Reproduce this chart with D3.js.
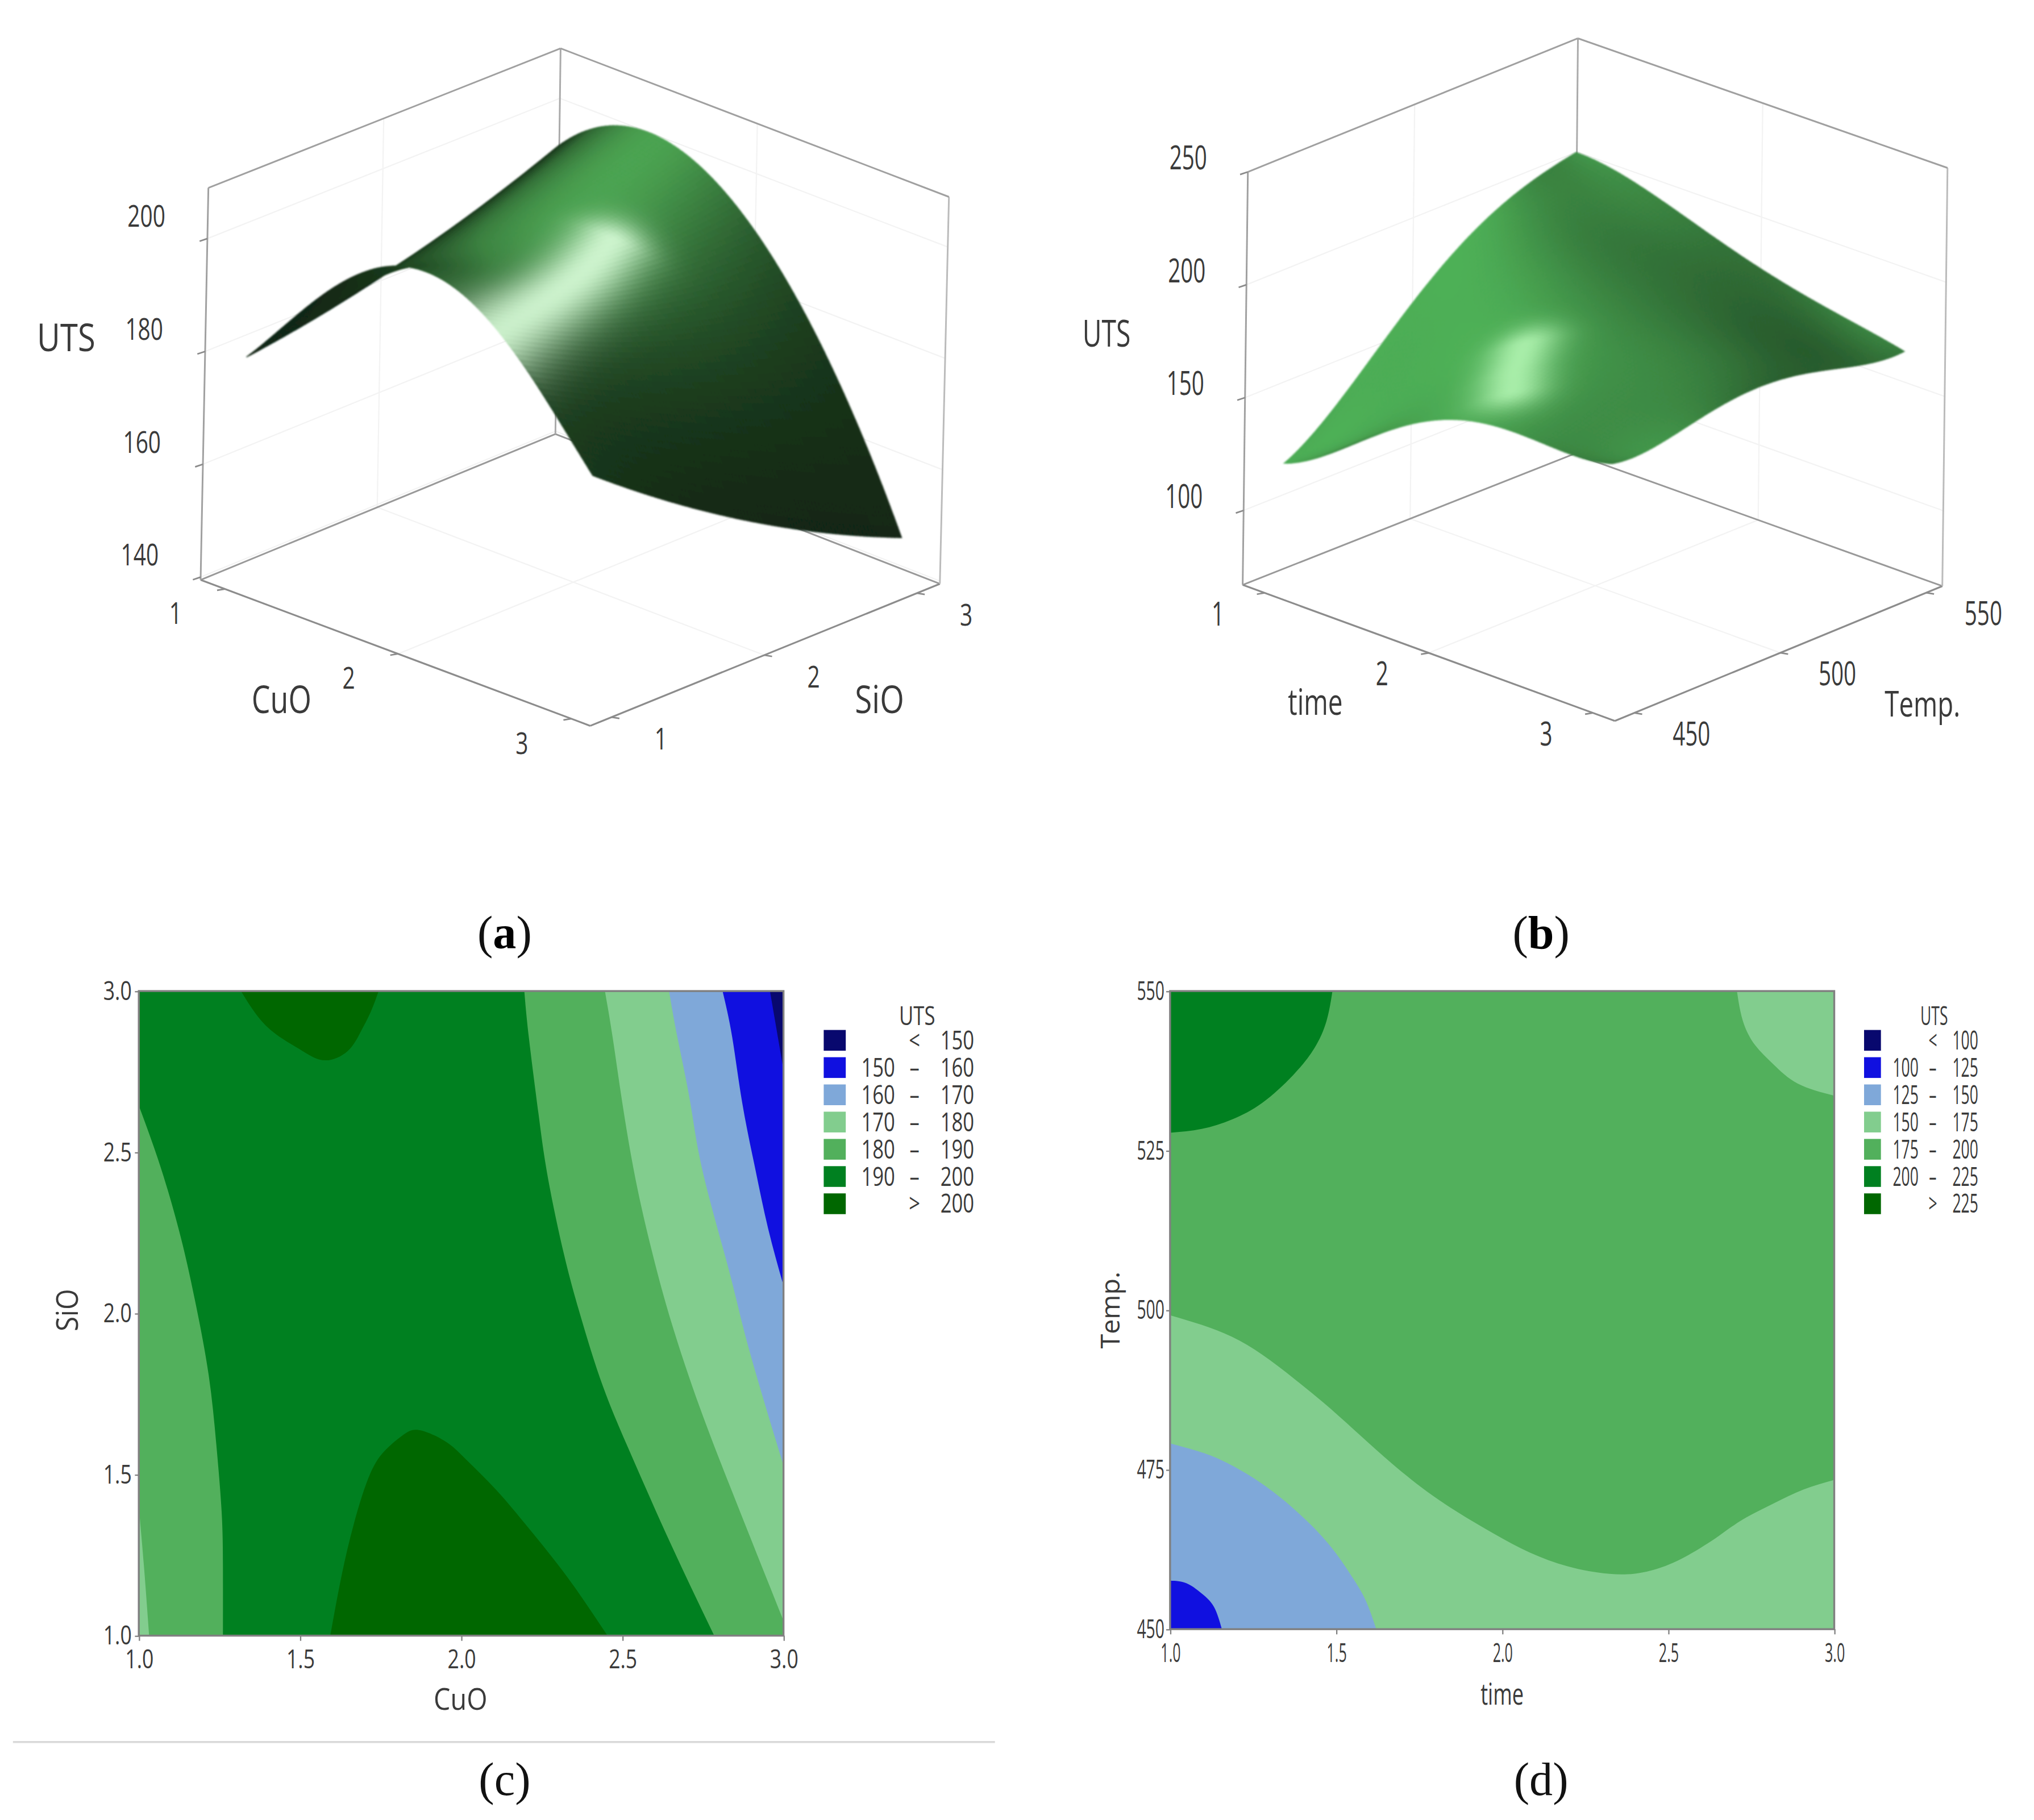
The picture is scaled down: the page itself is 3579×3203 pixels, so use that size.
<!DOCTYPE html>
<html>
<head>
<meta charset="utf-8">
<script src="https://cdn.jsdelivr.net/npm/d3@7"></script>
<style>
  html, body { margin: 0; background: #fff; }
  text { font-family: "Open Sans", sans-serif; fill: #3a3a3a; }
  .caption { font-family: "Liberation Serif", serif; font-size: 36px; fill: #111; }
  .caption .strong { font-weight: bold; fill: #000; }
</style>
</head>
<body>
<script>
// panel (a) surface: UTS read at CuO / SiO grid points
const cuoGrid = [1, 1.5, 2, 2.5, 3];
const sioGrid = [1, 2, 3];
const utsSio10 = [179, 197, 206, 199, 181];
const utsSio20 = [184, 195.5, 196, 186, 161.5];
const utsSio30 = [193, 202, 196, 177.5, 147];
const glareA = [[2.46, 1], [2.07, 2], [1.95, 2.3]];

// panel (b) surface: UTS read at time / Temp. grid points
const timeGrid = [1, 1.5, 2, 2.5, 3];
const tempGrid = [450, 475, 500, 525, 550];
const utsTemp450 = [121, 145, 167, 172, 174];
const utsTemp475 = [146, 165, 181, 183, 177];
const utsTemp500 = [176, 188, 190, 189, 182];
const utsTemp525 = [197, 195, 190, 184, 177];
const utsTemp550 = [207, 200, 188, 179, 172];
const glareB = [[2.16, 463], [2.05, 470], [1.93, 480]];

// panel (c) contour boundaries [CuO, SiO]
const cLeft190 = [[1, 2.645], [1.046, 2.518], [1.09, 2.382], [1.136, 2.213], [1.177, 2.027], [1.217, 1.807], [1.241, 1.587], [1.257, 1.384], [1.261, 1.215], [1.261, 1]];
const cLeft180 = [[1, 1.4], [1.016, 1.215], [1.032, 1]];
const cTop200 = [[1.317, 3], [1.367, 2.924], [1.427, 2.865], [1.508, 2.814], [1.578, 2.785], [1.648, 2.814], [1.688, 2.873], [1.718, 2.932], [1.744, 3]];
const cBottom200 = [[1.594, 1], [1.628, 1.181], [1.668, 1.35], [1.718, 1.503], [1.768, 1.579], [1.818, 1.621], [1.869, 1.638], [1.949, 1.604], [2.009, 1.553], [2.109, 1.452], [2.21, 1.333], [2.33, 1.181], [2.454, 1]];
const cRight190 = [[2.196, 3], [2.21, 2.856], [2.24, 2.619], [2.27, 2.416], [2.32, 2.179], [2.37, 1.993], [2.44, 1.773], [2.531, 1.553], [2.651, 1.283], [2.785, 1]];
const cRight180 = [[2.446, 3], [2.47, 2.856], [2.5, 2.653], [2.541, 2.416], [2.591, 2.196], [2.651, 1.976], [2.741, 1.706], [2.852, 1.418], [3, 1.046]];
const cRight170 = [[2.645, 3], [2.671, 2.856], [2.711, 2.653], [2.751, 2.433], [2.832, 2.129], [2.892, 1.892], [3, 1.528]];
const cRight160 = [[2.811, 3], [2.841, 2.856], [2.872, 2.653], [2.912, 2.45], [2.952, 2.264], [3, 2.086]];
const cRight150 = [[2.958, 3], [3, 2.755]];

// panel (d) contour boundaries [time, Temp.]
const dTop200 = [[1.489, 550], [1.471, 545.3], [1.434, 541], [1.37, 536.8], [1.278, 532.5], [1.187, 529.9], [1.095, 528.4], [1, 527.8]];
const dTop175 = [[2.707, 550], [2.725, 545.3], [2.762, 541.5], [2.817, 538.5], [2.89, 535.5], [3, 533.6]];
const dBottom175 = [[1, 499.2], [1.095, 497.7], [1.187, 495.8], [1.278, 493], [1.37, 489.4], [1.462, 485.5], [1.553, 481.3], [1.645, 477], [1.755, 472.3], [1.864, 468.4], [1.974, 465], [2.084, 462], [2.194, 459.9], [2.286, 458.9], [2.377, 458.6], [2.469, 459.5], [2.56, 461.6], [2.652, 464.6], [2.725, 467.2], [2.817, 469.7], [2.908, 471.9], [3, 473.4]];
const dBottom150 = [[1, 479.1], [1.077, 478], [1.15, 476.6], [1.242, 474], [1.333, 470.6], [1.425, 466.3], [1.498, 462], [1.553, 457.8], [1.59, 454.4], [1.621, 450]];
const dBottom125 = [[1, 457.6], [1.049, 457.2], [1.095, 455.6], [1.132, 453.5], [1.156, 450]];

// legends
const legendColors = ['#08086e', '#1010e0', '#7fa8d9', '#82cd8e', '#52b05c', '#008020', '#006700'];
const legendLowC = ['', '150', '160', '170', '180', '190', ''];
const legendHighC = ['150', '160', '170', '180', '190', '200', '200'];
const legendLowD = ['', '100', '125', '150', '175', '200', ''];
const legendHighD = ['100', '125', '150', '175', '200', '225', '225'];
const legendSigns = ['<', '–', '–', '–', '–', '–', '>'];

const contourTicksX = [1, 1.5, 2, 2.5, 3];
const contourTicksYc = [1, 1.5, 2, 2.5, 3];
const contourTicksYd = [450, 475, 500, 525, 550];

const svg = d3.select('body').append('svg')
  .attr('width', 3579)
  .attr('height', 3203)
  .attr('viewBox', '0 0 1568 1403')
  .style('display', 'block');

svg.append('defs').append('filter')
  .attr('id', 'soft')
  .append('feGaussianBlur')
  .attr('stdDeviation', 0.7);

function addText(g, x, y, str, opts) {
  const o = Object.assign({ size: 23, sx: 1, anchor: 'middle', rotate: 0 }, opts);
  return g.append('text')
    .attr('transform', `translate(${x},${y}) rotate(${o.rotate}) scale(${o.sx},1)`)
    .attr('text-anchor', o.anchor)
    .attr('dy', '.35em')
    .style('font-size', o.size + 'px')
    .text(str);
}

// polynomial through a row of grid values, t is in grid steps (response surfaces are low order)
function polyThrough(vals, t) {
  let sum = 0;
  vals.forEach((val, i) => {
    let term = val;
    vals.forEach((_, j) => {
      if (j !== i) term *= (t - j) / (i - j);
    });
    sum += term;
  });
  return sum;
}

function surfaceValue(rows, uStep, vStep) {
  return polyThrough(rows.map((r) => polyThrough(r, uStep)), vStep);
}

function dot(a, b) { return a[0] * b[0] + a[1] * b[1] + a[2] * b[2]; }

function normalize(a) {
  const l = Math.sqrt(dot(a, a));
  return a.map((d) => d / l);
}

function distToPath(p, path) {
  let best = Infinity;
  d3.pairs(path).forEach(([a, b]) => {
    const dx = b[0] - a[0], dy = b[1] - a[1];
    const t = Math.max(0, Math.min(1, ((p[0] - a[0]) * dx + (p[1] - a[1]) * dy) / (dx * dx + dy * dy)));
    best = Math.min(best, Math.hypot(p[0] - a[0] - t * dx, p[1] - a[1] - t * dy));
  });
  return best;
}

function shade(n, glareDist, cfg) {
  const d = Math.max(0, dot(n, cfg.light));
  const grazing = Math.min(1, Math.max(0, dot(n, cfg.view) / cfg.graze));
  const lum = (cfg.ambient + cfg.diffuse * Math.pow(d, cfg.gamma)) * (cfg.grazeFloor + (1 - cfg.grazeFloor) * grazing);
  const b = d3.rgb(cfg.base);
  const col = d3.rgb(b.r * lum, b.g * lum, b.b * lum);
  const spec = cfg.spec * Math.exp(-(glareDist / cfg.glareWidth) * (glareDist / cfg.glareWidth));
  return d3.interpolateRgb(col, cfg.hilite)(spec);
}

function drawCube(cfg) {
  const g = svg.append('g');
  const u = d3.scaleLinear().domain(cfg.xDomain).range([0, 1]);
  const v = d3.scaleLinear().domain(cfg.yDomain).range([0, 1]);
  const zy = d3.scaleLinear().domain([cfg.zFloor, cfg.zFloor + 1]).range([0, -cfg.zPerUnit]);
  const px = (a, b, z) => [
    cfg.origin[0] + a * cfg.U[0] + b * cfg.V[0],
    cfg.origin[1] + a * cfg.U[1] + b * cfg.V[1] + zy(z)
  ];
  const project = (x, y, z) => px(u(x), v(y), z);
  const topShift = (p) => [p[0] + cfg.topLean, p[1]];
  const nudged = (p, d) => [p[0] + d[0], p[1] + d[1]];

  const [uLo, uHi] = cfg.uBox, [vLo, vHi] = cfg.vBox;
  const leftFloor = px(uLo, vLo, cfg.zFloor);
  const frontFloor = px(uHi, vLo, cfg.zFloor);
  const rightFloor = nudged(px(uHi, vHi, cfg.zFloor), cfg.nudge.rightFloor);
  const backFloor = nudged(px(uLo, vHi, cfg.zFloor), cfg.nudge.backFloor);
  const leftTop = topShift(px(uLo, vLo, cfg.zTop));
  const backTop = nudged(topShift(px(uLo, vHi, cfg.zTop)), cfg.nudge.backTop);
  const rightTop = nudged(topShift(px(uHi, vHi, cfg.zTop)), cfg.nudge.rightTop);

  const segment = (a, b, color, w) => g.append('line')
    .attr('x1', a[0]).attr('y1', a[1]).attr('x2', b[0]).attr('y2', b[1])
    .attr('stroke', color).attr('stroke-width', w);
  const lerp = (a, b, t) => [a[0] + (b[0] - a[0]) * t, a[1] + (b[1] - a[1]) * t];

  // faint grid on walls and floor
  const zT = d3.scaleLinear().domain([cfg.zFloor, cfg.zTop]).range([0, 1]);
  cfg.zTicks.forEach((z) => {
    const t = zT(z);
    const a = lerp(leftFloor, leftTop, t), b = lerp(backFloor, backTop, t), c = lerp(rightFloor, rightTop, t);
    segment(a, b, '#f3f3f3', 1);
    segment(b, c, '#f3f3f3', 1);
  });
  const uBoxT = d3.scaleLinear().domain(cfg.uBox).range([0, 1]);
  const vBoxT = d3.scaleLinear().domain(cfg.vBox).range([0, 1]);
  [cfg.xTicks[1]].forEach((x) => {
    const t = uBoxT(u(x));
    const a = lerp(leftFloor, frontFloor, t), b = lerp(backFloor, rightFloor, t);
    segment(a, b, '#f3f3f3', 1);
    segment(b, lerp(backTop, rightTop, t), '#f3f3f3', 1);
  });
  [cfg.yTicks[1]].forEach((y) => {
    const t = vBoxT(v(y));
    const a = lerp(frontFloor, rightFloor, t), b = lerp(leftFloor, backFloor, t);
    segment(a, b, '#f3f3f3', 1);
    segment(b, lerp(leftTop, backTop, t), '#f3f3f3', 1);
  });

  segment(backFloor, leftFloor, '#999999', 1.3);
  segment(backFloor, rightFloor, '#999999', 1.3);
  segment(leftFloor, frontFloor, '#8c8c8c', 1.4);
  segment(frontFloor, rightFloor, '#8c8c8c', 1.4);
  segment(leftFloor, leftTop, '#a0a0a0', 1.3);
  segment(backFloor, backTop, '#aaaaaa', 1.3);
  segment(rightFloor, rightTop, '#bbbbbb', 1.3);
  segment(leftTop, backTop, '#a0a0a0', 1.3);
  segment(backTop, rightTop, '#a0a0a0', 1.3);

  // ticks and their labels
  cfg.zTicks.forEach((z) => {
    const p = lerp(leftFloor, leftTop, zT(z));
    segment(p, [p[0] - 6, p[1] + 2], '#8a8a8a', 1.2);
    addText(g, p[0] + cfg.zLabelOffset[0], p[1] + cfg.zLabelOffset[1], String(z), cfg.tickFont);
  });
  cfg.xTicks.forEach((x) => {
    const p = lerp(leftFloor, frontFloor, uBoxT(u(x)));
    segment(p, [p[0] - 6, p[1] + 1], '#8a8a8a', 1.2);
    addText(g, p[0] + cfg.xLabelOffset[0], p[1] + cfg.xLabelOffset[1], String(x), cfg.tickFont);
  });
  cfg.yTicks.forEach((y) => {
    const p = lerp(frontFloor, rightFloor, vBoxT(v(y)));
    segment(p, [p[0] + 6, p[1] + 1], '#8a8a8a', 1.2);
    addText(g, p[0] + cfg.yLabelOffset[0], p[1] + cfg.yLabelOffset[1], String(y), cfg.tickFont);
  });
  cfg.titles.forEach((t) => addText(g, t.x, t.y, t.text, t.font));

  // surface, painted from the far corner to the near one
  const xIndex = d3.scaleLinear().domain([0, cfg.cells]).range([0, cfg.xGrid.length - 1]);
  const yIndex = d3.scaleLinear().domain([0, cfg.cells]).range([cfg.yGrid.length - 1, 0]);
  const xVal = d3.scaleLinear().domain([0, cfg.xGrid.length - 1]).range(d3.extent(cfg.xGrid));
  const yVal = d3.scaleLinear().domain([0, cfg.yGrid.length - 1]).range(d3.extent(cfg.yGrid));
  const glarePath = cfg.glare.map((p) => [u(p[0]), v(p[1])]);
  const cells = [];
  d3.range(cfg.cells).forEach((i) => {
    d3.range(cfg.cells).forEach((j) => cells.push({ i, j }));
  });
  const corner = (i, j) => {
    const a = xIndex(i), b = yIndex(j);
    return project(xVal(a), yVal(b), surfaceValue(cfg.rows, a, b));
  };
  const normalAt = (i, j) => {
    const h = 0.5;
    const a0 = xIndex(Math.max(0, i - h)), a1 = xIndex(Math.min(cfg.cells, i + h));
    const bMid = yIndex(j), aMid = xIndex(i);
    const b0 = yIndex(Math.min(cfg.cells, j + h)), b1 = yIndex(Math.max(0, j - h));
    const duStep = (a1 - a0) / (cfg.xGrid.length - 1), dvStep = (b1 - b0) / (cfg.yGrid.length - 1);
    const dzu = (surfaceValue(cfg.rows, a1, bMid) - surfaceValue(cfg.rows, a0, bMid)) / duStep;
    const dzv = (surfaceValue(cfg.rows, aMid, b1) - surfaceValue(cfg.rows, aMid, b0)) / dvStep;
    return normalize([-dzu / cfg.zRange, -dzv / cfg.zRange, 1]);
  };
  g.append('g')
    .attr('filter', 'url(#soft)')
    .selectAll('path')
    .data(cells)
    .join('path')
    .attr('d', (d) => 'M' + [corner(d.i, d.j), corner(d.i + 1, d.j), corner(d.i + 1, d.j + 1), corner(d.i, d.j + 1)].join('L') + 'Z')
    .each(function (d) {
      const here = [(d.i + 0.5) / cfg.cells, 1 - (d.j + 0.5) / cfg.cells];
      const col = shade(normalAt(d.i + 0.5, d.j + 0.5), distToPath(here, glarePath), cfg);
      d3.select(this).attr('fill', col).attr('stroke', col).attr('stroke-width', 0.7);
    });
}

function drawContour(cfg) {
  const g = svg.append('g');
  const x = d3.scaleLinear().domain(cfg.xDomain).range([cfg.left, cfg.right]);
  const y = d3.scaleLinear().domain(cfg.yDomain).range([cfg.bottom, cfg.top]);
  const line = d3.line().x((d) => x(d[0])).y((d) => y(d[1])).curve(d3.curveNatural);

  g.append('rect')
    .attr('x', cfg.left).attr('y', cfg.top)
    .attr('width', cfg.right - cfg.left).attr('height', cfg.bottom - cfg.top)
    .attr('fill', cfg.baseColor);

  g.selectAll('path.band')
    .data(cfg.bands)
    .join('path')
    .attr('class', 'band')
    .attr('fill', (d) => d.color)
    .attr('d', (d) => line(d.edge) + d.close.map((p) => 'L' + x(p[0]) + ',' + y(p[1])).join('') + 'Z');

  g.append('rect')
    .attr('x', cfg.left).attr('y', cfg.top)
    .attr('width', cfg.right - cfg.left).attr('height', cfg.bottom - cfg.top)
    .attr('fill', 'none').attr('stroke', '#808080').attr('stroke-width', 1.5);

  const xAxis = g.append('g')
    .attr('transform', `translate(0,${cfg.bottom})`)
    .call(d3.axisBottom(x).tickValues(contourTicksX).tickFormat(d3.format('.1f')).tickSize(4).tickPadding(7));
  const yAxis = g.append('g')
    .attr('transform', `translate(${cfg.left},0)`)
    .call(d3.axisLeft(y).tickValues(cfg.yTicks).tickFormat(cfg.yFormat).tickSize(3).tickPadding(4));
  [xAxis, yAxis].forEach((a) => {
    a.select('.domain').remove();
    a.selectAll('line').attr('stroke', '#808080').attr('stroke-width', 1);
    a.selectAll('text').style('font-size', cfg.tickSize + 'px').style('font-family', '"Open Sans", sans-serif').attr('fill', '#222');
  });
  xAxis.selectAll('text').attr('transform', `scale(${cfg.xTickSx},1)`);
  yAxis.selectAll('text').attr('transform', `scale(${cfg.yTickSx},1)`);

  addText(g, cfg.xTitle.x, cfg.xTitle.y, cfg.xTitle.text, cfg.xTitle.font);
  addText(g, cfg.yTitle.x, cfg.yTitle.y, cfg.yTitle.text, cfg.yTitle.font);

  // legend
  const rowY = d3.scalePoint().domain(d3.range(legendColors.length)).range([802, 928]);
  const leg = cfg.legend;
  addText(g, leg.titleX, 783, 'UTS', leg.font);
  legendColors.forEach((color, i) => {
    g.append('rect')
      .attr('x', leg.swatchX).attr('y', rowY(i) - 8)
      .attr('width', leg.swatchW).attr('height', 16)
      .attr('fill', color);
    if (cfg.lows[i]) addText(g, leg.lowRight, rowY(i), cfg.lows[i], Object.assign({}, leg.font, { anchor: 'end' }));
    addText(g, leg.signX, rowY(i), legendSigns[i], leg.font);
    addText(g, leg.highRight, rowY(i), cfg.highs[i], Object.assign({}, leg.font, { anchor: 'end' }));
  });
}

drawCube({
  rows: [utsSio10, utsSio20, utsSio30],
  xGrid: cuoGrid, yGrid: sioGrid,
  xDomain: [1, 3], yDomain: [1, 3],
  origin: [190, 447], U: [267, 100], V: [238, -100],
  uBox: [-0.07, 1.055], vBox: [-0.07, 1.075],
  nudge: { rightFloor: [-3, 5], rightTop: [-2, 9], backFloor: [1, 2], backTop: [-1, 7] },
  zFloor: 139.5, zTop: 209, zPerUnit: 4.35, topLean: 6, zRange: 70,
  zTicks: [140, 160, 180, 200], xTicks: [1, 2, 3], yTicks: [1, 2, 3],
  zLabelOffset: [-47, -17], xLabelOffset: [-38, 19], yLabelOffset: [38, 17],
  tickFont: { size: 23, sx: 0.74 },
  titles: [
    { x: 51, y: 260, text: 'UTS', font: { size: 30, sx: 0.82 } },
    { x: 217, y: 539, text: 'CuO', font: { size: 30, sx: 0.76 } },
    { x: 678, y: 539, text: 'SiO', font: { size: 30, sx: 0.8 } }
  ],
  cells: 90,
  base: '#4aa050', hilite: '#d8fcd8', glare: glareA, glareWidth: 0.085,
  light: normalize([0.1, -0.2, 0.97]), view: normalize([0.58, -0.65, 0.47]),
  ambient: 0.16, diffuse: 0.86, gamma: 3, spec: 0.92, graze: 0.3, grazeFloor: 0.7
});

drawCube({
  rows: [utsTemp450, utsTemp475, utsTemp500, utsTemp525, utsTemp550],
  xGrid: timeGrid, yGrid: tempGrid,
  xDomain: [1, 3], yDomain: [450, 550],
  origin: [990, 451], U: [253, 92.5], V: [225, -90],
  uBox: [-0.067, 1.067], vBox: [-0.067, 1.055],
  nudge: { rightFloor: [0, -3], rightTop: [0, -7], backFloor: [3, 0], backTop: [2, -2] },
  zFloor: 67, zTop: 250, zPerUnit: 1.74, topLean: 4, zRange: 183,
  zTicks: [100, 150, 200, 250], xTicks: [1, 2, 3], yTicks: [450, 500, 550],
  zLabelOffset: [-46, -11], xLabelOffset: [-36, 16], yLabelOffset: [44, 16],
  tickFont: { size: 26, sx: 0.65 },
  titles: [
    { x: 853, y: 257, text: 'UTS', font: { size: 29, sx: 0.7 } },
    { x: 1014, y: 541, text: 'time', font: { size: 28, sx: 0.72 } },
    { x: 1482, y: 543, text: 'Temp.', font: { size: 27, sx: 0.74 } }
  ],
  cells: 90,
  base: '#4aa652', hilite: '#b4f6b4', glare: glareB, glareWidth: 0.085,
  light: normalize([-0.3, -0.45, 0.84]), view: normalize([0.58, -0.65, 0.47]),
  ambient: 0.14, diffuse: 0.92, gamma: 2, spec: 0.88, graze: 0.2, grazeFloor: 0.7
});

drawContour({
  left: 107, right: 604, top: 764, bottom: 1261,
  xDomain: [1, 3], yDomain: [1, 3],
  baseColor: legendColors[5],
  bands: [
    { edge: cLeft190, close: [[1, 1]], color: legendColors[4] },
    { edge: cLeft180, close: [[1, 1]], color: legendColors[3] },
    { edge: cTop200, close: [], color: legendColors[6] },
    { edge: cBottom200, close: [], color: legendColors[6] },
    { edge: cRight190, close: [[3, 1], [3, 3]], color: legendColors[4] },
    { edge: cRight180, close: [[3, 3]], color: legendColors[3] },
    { edge: cRight170, close: [[3, 3]], color: legendColors[2] },
    { edge: cRight160, close: [[3, 3]], color: legendColors[1] },
    { edge: cRight150, close: [[3, 3]], color: legendColors[0] }
  ],
  yTicks: contourTicksYc, yFormat: d3.format('.1f'),
  tickSize: 20, xTickSx: 0.78, yTickSx: 0.78,
  xTitle: { x: 355, y: 1310, text: 'CuO', font: { size: 23, sx: 0.89 } },
  yTitle: { x: 52, y: 1010, text: 'SiO', font: { size: 23, sx: 0.9, rotate: -90 } },
  lows: legendLowC, highs: legendHighC,
  legend: { titleX: 707, swatchX: 635, swatchW: 17, lowRight: 690, signX: 705, highRight: 751, font: { size: 20, sx: 0.76 } }
});

drawContour({
  left: 902, right: 1414, top: 764, bottom: 1256,
  xDomain: [1, 3], yDomain: [450, 550],
  baseColor: legendColors[4],
  bands: [
    { edge: dTop200, close: [[1, 550]], color: legendColors[5] },
    { edge: dTop175, close: [[3, 550]], color: legendColors[3] },
    { edge: dBottom175, close: [[3, 450], [1, 450]], color: legendColors[3] },
    { edge: dBottom150, close: [[1, 450]], color: legendColors[2] },
    { edge: dBottom125, close: [[1, 450]], color: legendColors[1] }
  ],
  yTicks: contourTicksYd, yFormat: d3.format('d'),
  tickSize: 20, xTickSx: 0.55, yTickSx: 0.62,
  xTitle: { x: 1158, y: 1306, text: 'time', font: { size: 23, sx: 0.69 } },
  yTitle: { x: 856, y: 1010, text: 'Temp.', font: { size: 20, sx: 1.02, rotate: -90 } },
  lows: legendLowD, highs: legendHighD,
  legend: { titleX: 1491, swatchX: 1437, swatchW: 13, lowRight: 1479, signX: 1490, highRight: 1525, font: { size: 20, sx: 0.58 } }
});

svg.append('line')
  .attr('x1', 10).attr('x2', 767).attr('y1', 1343).attr('y2', 1343)
  .attr('stroke', '#d9d9d9').attr('stroke-width', 1.5);

[['a', 389, 719, true], ['b', 1188, 719, true], ['c', 389, 1372, false], ['d', 1188, 1372, false]].forEach((c) => {
  const cap = svg.append('text')
    .attr('class', 'caption')
    .attr('x', c[1]).attr('y', c[2])
    .attr('text-anchor', 'middle')
    .attr('dy', '.33em');
  cap.append('tspan').text('(');
  cap.append('tspan').attr('class', c[3] ? 'strong' : null).text(c[0]);
  cap.append('tspan').text(')');
});
</script>
</body>
</html>
